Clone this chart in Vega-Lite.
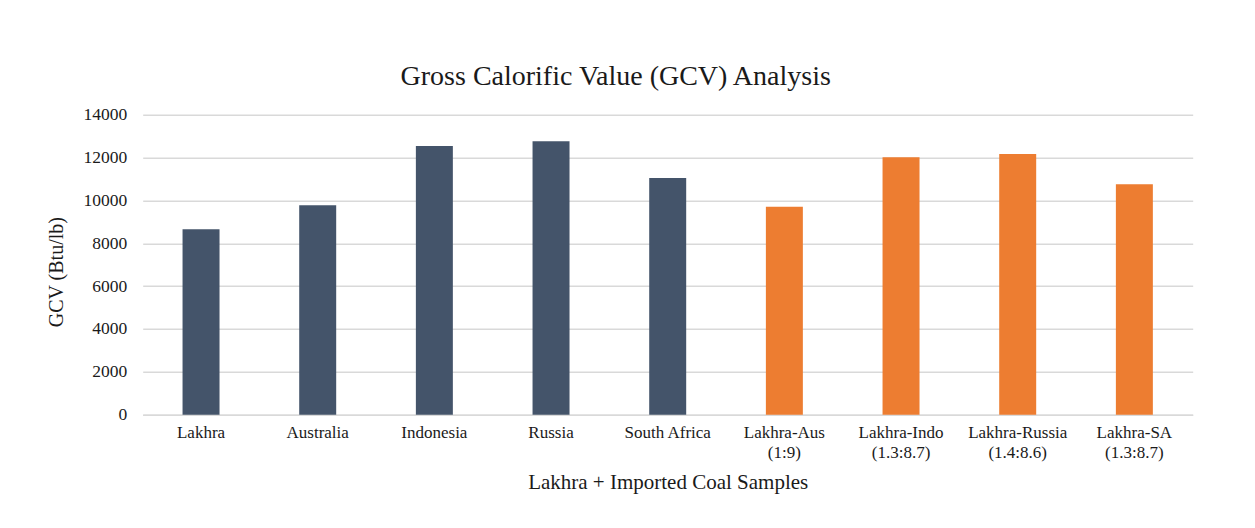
{
  "$schema": "https://vega.github.io/schema/vega-lite/v6.json",
  "autosize": {"type": "none"},
  "width": 1050,
  "height": 300,
  "padding": {"left": 142.7, "top": 114.7, "right": 62.3, "bottom": 113.3},
  "background": "#ffffff",
  "title": {
    "text": "Gross Calorific Value (GCV) Analysis",
    "font": "Liberation Serif",
    "fontSize": 28,
    "fontWeight": "normal",
    "color": "#1a1a1a",
    "anchor": "middle",
    "baseline": "alphabetic",
    "offset": 29,
    "dx": -52,
    "dy": 36
  },
  "data": {
    "values": [
      {"sample": "Lakhra", "gcv": 8650, "kind": "Single"},
      {"sample": "Australia", "gcv": 9770, "kind": "Single"},
      {"sample": "Indonesia", "gcv": 12540, "kind": "Single"},
      {"sample": "Russia", "gcv": 12760, "kind": "Single"},
      {"sample": "South Africa", "gcv": 11050, "kind": "Single"},
      {"sample": "Lakhra-Aus (1:9)", "gcv": 9700, "kind": "Blend"},
      {"sample": "Lakhra-Indo (1.3:8.7)", "gcv": 12020, "kind": "Blend"},
      {"sample": "Lakhra-Russia (1.4:8.6)", "gcv": 12170, "kind": "Blend"},
      {"sample": "Lakhra-SA (1.3:8.7)", "gcv": 10750, "kind": "Blend"}
    ]
  },
  "mark": {"type": "bar"},
  "encoding": {
    "x": {
      "field": "sample",
      "type": "nominal",
      "sort": null,
      "scale": {"paddingInner": 0.683, "paddingOuter": 0.3415},
      "axis": {
        "title": "Lakhra + Imported Coal Samples",
        "titleFont": "Liberation Serif",
        "titleFontSize": 21,
        "titleFontWeight": "normal",
        "titleColor": "#1a1a1a",
        "titleBaseline": "alphabetic",
        "titleY": 73.3,
        "labelExpr": "indexof(datum.label, ' (') > 0 ? [substring(datum.label, 0, indexof(datum.label, ' (')), substring(datum.label, indexof(datum.label, ' (') + 1)] : datum.label",
        "labelAngle": 0,
        "labelFont": "Liberation Serif",
        "labelFontSize": 17,
        "labelColor": "#1a1a1a",
        "labelLineHeight": 20,
        "labelPadding": 10,
        "labelBaseline": "top",
        "ticks": false,
        "domainColor": "#d9d9d9",
        "domainWidth": 1.5,
        "grid": false
      }
    },
    "y": {
      "field": "gcv",
      "type": "quantitative",
      "scale": {"domain": [0, 14000]},
      "axis": {
        "title": "GCV (Btu/lb)",
        "titleFont": "Liberation Serif",
        "titleFontSize": 20,
        "titleFontWeight": "normal",
        "titleColor": "#1a1a1a",
        "titleAngle": -90,
        "titleAlign": "center",
        "titleBaseline": "middle",
        "titleX": -86,
        "titleY": 157,
        "values": [0, 2000, 4000, 6000, 8000, 10000, 12000, 14000],
        "format": "d",
        "labelFont": "Liberation Serif",
        "labelFontSize": 17.5,
        "labelColor": "#1a1a1a",
        "labelPadding": 16,
        "ticks": false,
        "domain": false,
        "gridColor": "#d9d9d9",
        "gridWidth": 1.5
      }
    },
    "color": {
      "field": "kind",
      "type": "nominal",
      "scale": {"domain": ["Single", "Blend"], "range": ["#44546a", "#ed7d31"]},
      "legend": null
    }
  },
  "config": {
    "view": {"stroke": null}
  }
}
